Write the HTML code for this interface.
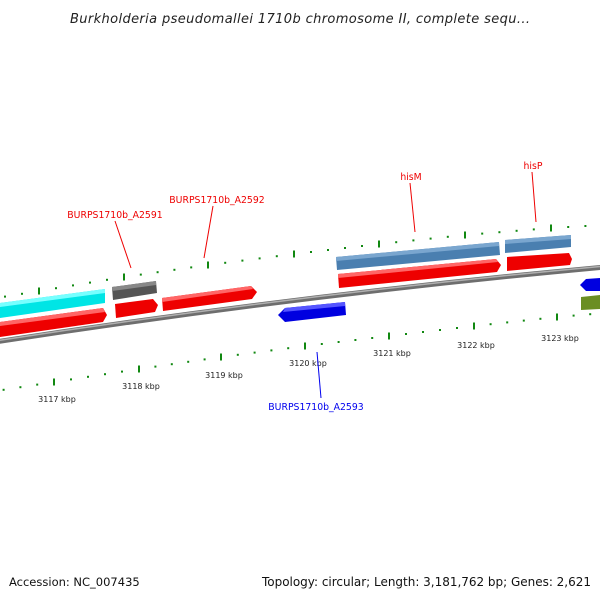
<!DOCTYPE html>
<html><head><meta charset="utf-8"><style>
html,body{margin:0;padding:0;background:#fff;}
svg{display:block;}
</style></head><body>
<svg id="s" width="600" height="600" xmlns="http://www.w3.org/2000/svg" font-family="DejaVu Sans, Liberation Sans, sans-serif">
<text x="300" y="23" text-anchor="middle" font-style="italic" font-size="13" fill="#222" textLength="460">Burkholderia pseudomallei 1710b chromosome II, complete sequ...</text>
<path d="M-5,342 Q300,295 605,267" stroke="#6e6e6e" stroke-width="5" fill="none"/>
<path d="M-5,341 Q300,294 605,266" stroke="#b0b0b0" stroke-width="1.5" fill="none"/>
<polygon points="0,303 105,289 105,303 0,318" fill="#00e5e5"/>
<polygon points="0,303 105,289 105,293 0,307" fill="#7ff"/>
<polygon points="0,322 103,308 107,315 103,322 0,337" fill="#e00"/>
<polygon points="0,322 103,308 105,312 0,326" fill="#f66"/>
<polygon points="112,287 156,281 157,293 113,300" fill="#555"/>
<polygon points="112,287 156,281 156,285 112,291" fill="#888"/>
<polygon points="115,304 153,299 158,305 155,312 116,318" fill="#e00"/>
<polygon points="162,298 251,286 257,292 252,299 163,311" fill="#e00"/>
<polygon points="162,298 251,286 253,289 162,302" fill="#f66"/>
<polygon points="278,315 285,308 345,302 346,315 285,322" fill="#0000e0"/>
<polygon points="285,308 345,302 345,306 283,312" fill="#55f"/>
<polygon points="336,257 499,242 500,255 337,270" fill="#4a7fb0"/>
<polygon points="336,257 499,242 499,246 336,261" fill="#7aa6cf"/>
<polygon points="505,240 571,235 571,247 505,253" fill="#4a7fb0"/>
<polygon points="505,240 571,235 571,239 505,244" fill="#7aa6cf"/>
<polygon points="338,274 496,259 501,265 497,272 339,288" fill="#e00"/>
<polygon points="338,274 496,259 498,262 338,278" fill="#f66"/>
<polygon points="507,257 569,253 572,259 570,265 507,271" fill="#e00"/>
<polygon points="580,285 586,279 600,278 600,291 586,291" fill="#0000e0"/>
<polygon points="581,297 600,295 600,309 581,310" fill="#6b8e23"/>
<g id="ticks" fill="#118811"></g>
<g font-size="8" fill="#222" text-anchor="middle">
<text x="57" y="402">3117 kbp</text>
<text x="141" y="389">3118 kbp</text>
<text x="224" y="378">3119 kbp</text>
<text x="308" y="366">3120 kbp</text>
<text x="392" y="356">3121 kbp</text>
<text x="476" y="348">3122 kbp</text>
<text x="560" y="341">3123 kbp</text>
</g>
<g font-size="9.3" fill="#e00" text-anchor="middle">
<text x="115" y="218">BURPS1710b_A2591</text>
<text x="217" y="203">BURPS1710b_A2592</text>
<text x="411" y="180">hisM</text>
<text x="533" y="169">hisP</text>
</g>
<g stroke="#e00" stroke-width="1">
<line x1="115" y1="221" x2="131" y2="268"/>
<line x1="213" y1="206" x2="204" y2="258"/>
<line x1="410" y1="183" x2="415" y2="232"/>
<line x1="532" y1="172" x2="536" y2="222"/>
</g>
<line x1="317" y1="352" x2="321" y2="398" stroke="#00e" stroke-width="1"/>
<text x="316" y="410" font-size="9.3" fill="#00e" text-anchor="middle">BURPS1710b_A2593</text>
<text x="9" y="586" font-size="11.5" fill="#111">Accession: NC_007435</text>
<text x="262" y="586" font-size="12" fill="#111" textLength="329">Topology: circular; Length: 3,181,762 bp; Genes: 2,621</text>
</svg>
<script>
var g=document.getElementById('ticks');
function row(M){
  for(var k=0;k<M.length-1;k++){
    var a=M[k],b=M[k+1];
    for(var i=0;i<5;i++){
      var x=a[0]+(b[0]-a[0])*i/5,y=a[1]+(b[1]-a[1])*i/5;
      if(x<-2||x>602)continue;
      var r=document.createElementNS('http://www.w3.org/2000/svg','rect');
      if(i==0){r.setAttribute('x',x-1);r.setAttribute('y',y-3.5);r.setAttribute('width',2);r.setAttribute('height',7);}
      else{r.setAttribute('x',x-1);r.setAttribute('y',y-1);r.setAttribute('width',2);r.setAttribute('height',2);}
      g.appendChild(r);
    }
  }
}
row([[-46,305],[39,291],[124,277],[208,265],[294,254],[379,244],[465,235],[551,228],[637,223]]);
row([[-30,395],[54,382],[139,369],[221,357],[305,346],[389,336],[474,326],[557,317],[640,310]]);
</script>
</body></html>
